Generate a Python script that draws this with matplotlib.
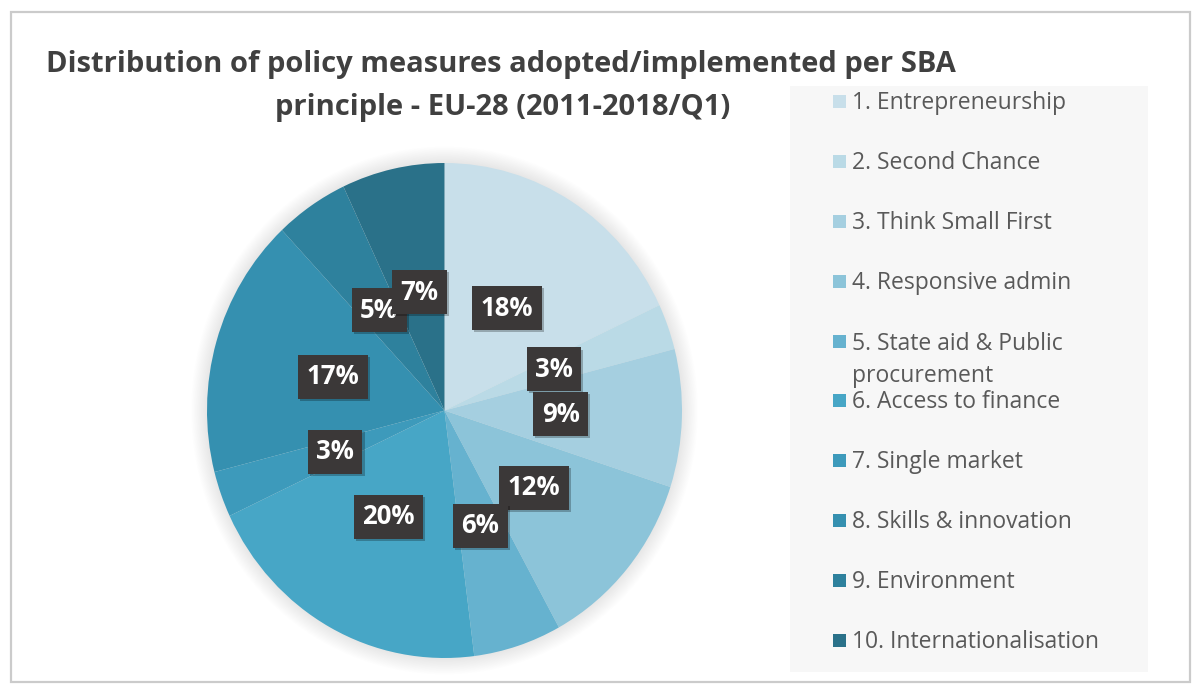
import matplotlib
matplotlib.use("Agg")
import matplotlib.pyplot as plt
from matplotlib import font_manager
from matplotlib.patches import Rectangle, Ellipse
import matplotlib.patheffects as pe

# ---------------- data ----------------
categories = ["1. Entrepreneurship", "2. Second Chance", "3. Think Small First",
              "4. Responsive admin", "5. State aid & Public\nprocurement",
              "6. Access to finance", "7. Single market", "8. Skills & innovation",
              "9. Environment", "10. Internationalisation"]
shares = [18, 3, 9, 12, 6, 20, 3, 17, 5, 7]
colors = ["#c8dfea", "#badae6", "#a5cfe0", "#8cc4d9", "#66b2cf",
          "#47a6c6", "#3d9abb", "#3590b0", "#2e819d", "#2a7189"]
title_lines = ["Distribution of policy measures adopted/implemented per SBA",
               "principle - EU-28 (2011-2018/Q1)"]

W, H = 1192, 684
fig = plt.figure(figsize=(W / 100, H / 100), dpi=100)
fig.patch.set_facecolor("white")

def fx(px):
    return px / W

def fy(py):
    return 1 - py / H

# outer frame
fig.patches.append(Rectangle((fx(11), fy(682)), fx(1190) - fx(11), fy(12) - fy(682),
                             transform=fig.transFigure, fill=False,
                             edgecolor="#cbcbcb", linewidth=1.6))
# legend background
fig.patches.append(Rectangle((fx(790), fy(672)), fx(1148) - fx(790), fy(86) - fy(672),
                             transform=fig.transFigure, facecolor="#f7f7f7",
                             edgecolor="none", zorder=0))

names = {f.name for f in font_manager.fontManager.ttflist}
title_font = "Liberation Sans Narrow" if "Liberation Sans Narrow" in names else "Open Sans"

# title, fitted to the reference width
renderer = fig.canvas.get_renderer()
t1 = fig.text(fx(501), fy(72), title_lines[0], ha="center", va="baseline",
              fontsize=24, fontweight="bold", color="#404040", family=title_font)
w = t1.get_window_extent(renderer).width
fs = 24 * 911 / w
t1.set_fontsize(fs)
fig.text(fx(503), fy(115), title_lines[1], ha="center", va="baseline",
         fontsize=fs, fontweight="bold", color="#404040", family=title_font)

# pie
ax = fig.add_axes([fx(207), fy(658), fx(682) - fx(207), fy(163) - fy(658)])
# soft glow behind pie
for k in range(12):
    ax.add_patch(Ellipse((0, 0), 2 + 0.011 * (12 - k), 2 + 0.011 * (12 - k),
                         facecolor="#b0b0b0", edgecolor="none", alpha=0.018,
                         zorder=0, clip_on=False))
wedges, texts, autotexts = ax.pie(
    shares, colors=colors, startangle=90, counterclock=False,
    autopct=lambda p: f"{p:.0f}%", pctdistance=0.49,
    wedgeprops=dict(linewidth=0),
    textprops=dict(color="white", fontsize=18.5, fontweight="bold", family="Open Sans"))
for wdg in wedges:
    wdg.set_zorder(1)
for at in autotexts:
    at.set_bbox(dict(boxstyle="square,pad=0.33", facecolor="#3b3838", edgecolor="none"))
    at.get_bbox_patch().set_path_effects([
        pe.withSimplePatchShadow(offset=(1.5, -1.5), shadow_rgbFace="#000000", alpha=0.25)])
    at.set_zorder(5)
ax.set_aspect("auto")
ax.set_xlim(-1, 1)
ax.set_ylim(-1, 1)
ax.axis("off")

# legend (manual, to follow the reference spacing)
line_step = 33
for i, (lab, col) in enumerate(zip(categories, colors)):
    yc = 101 + 59.9 * i
    n_extra = lab.count("\n")
    fig.patches.append(Rectangle((fx(833), fy(yc + 7)), fx(846) - fx(833), fy(yc - 6) - fy(yc + 7),
                                 transform=fig.transFigure, facecolor=col,
                                 edgecolor="none", zorder=2))
    fig.text(fx(852), fy(yc + 8 + line_step * n_extra), lab, ha="left", va="baseline",
             fontsize=16.5, color="#595959", family="Open Sans", linespacing=1.45)

fig.savefig("out.png", dpi=100)
